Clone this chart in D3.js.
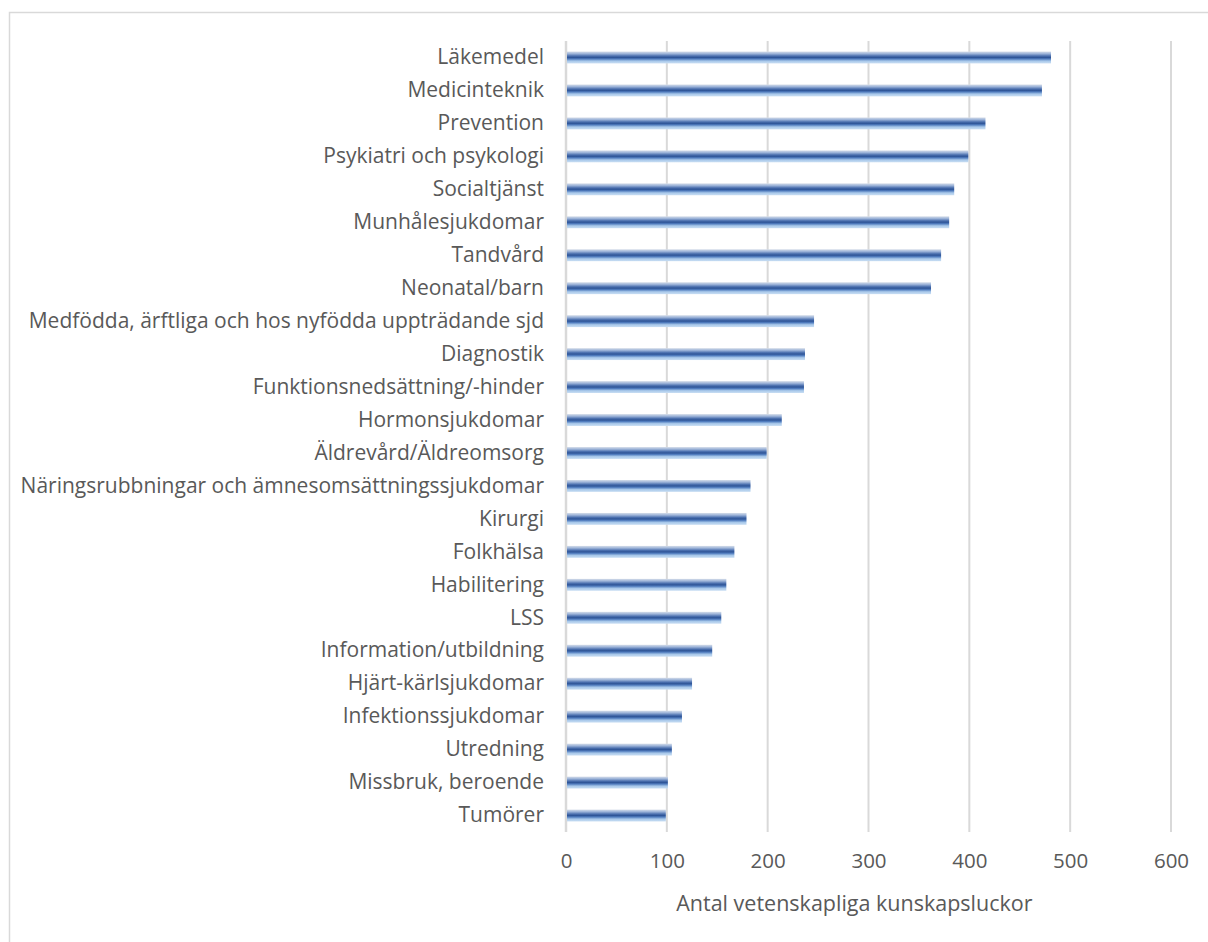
<!DOCTYPE html>
<html>
<head>
<meta charset="utf-8">
<script src="https://cdn.jsdelivr.net/npm/d3@7"></script>
<style>
  body { margin: 0; background: #fff; }
  text { font-family: "Open Sans", sans-serif; }
</style>
</head>
<body>
<div id="wrapper"></div>
<script>
// data
const categories = [
  "Läkemedel", "Medicinteknik", "Prevention", "Psykiatri och psykologi",
  "Socialtjänst", "Munhålesjukdomar", "Tandvård", "Neonatal/barn",
  "Medfödda, ärftliga och hos nyfödda uppträdande sjd", "Diagnostik",
  "Funktionsnedsättning/-hinder", "Hormonsjukdomar", "Äldrevård/Äldreomsorg",
  "Näringsrubbningar och ämnesomsättningssjukdomar", "Kirurgi", "Folkhälsa",
  "Habilitering", "LSS", "Information/utbildning", "Hjärt-kärlsjukdomar",
  "Infektionssjukdomar", "Utredning", "Missbruk, beroende", "Tumörer"
]
const values = [481, 472, 416, 399, 385, 380, 372, 362, 246, 237, 236, 214,
  199, 183, 179, 167, 159, 154, 145, 125, 115, 105, 101, 99]
const xTicks = [0, 100, 200, 300, 400, 500, 600]
const xTitle = "Antal vetenskapliga kunskapsluckor"

const dimensions = {
  width: 1208,
  height: 942,
  margin: { top: 41, right: 37, bottom: 110, left: 566 },
}
dimensions.boundedWidth = dimensions.width - dimensions.margin.left - dimensions.margin.right
dimensions.boundedHeight = dimensions.height - dimensions.margin.top - dimensions.margin.bottom

const wrapper = d3.select("#wrapper")
  .append("svg")
  .attr("width", dimensions.width)
  .attr("height", dimensions.height)

// chart border
wrapper.append("rect")
  .attr("x", 9.5).attr("y", 12.5)
  .attr("width", 1220).attr("height", 960)
  .attr("fill", "none")
  .attr("stroke", "#d9d9d9")
  .attr("stroke-width", 1.5)

// bar gradient (light edges, dark centre)
const grad = wrapper.append("defs").append("linearGradient")
  .attr("id", "barGrad")
  .attr("x1", 0).attr("y1", 0).attr("x2", 0).attr("y2", 1)
const stops = [
  [0, "#d5dde9"], [0.18, "#9db4d9"], [0.38, "#4a6fae"], [0.5, "#2f5597"],
  [0.62, "#4f7bbd"], [0.8, "#a8c8ea"], [1, "#c9def3"]
]
grad.selectAll("stop").data(stops).enter().append("stop")
  .attr("offset", d => d[0])
  .attr("stop-color", d => d[1])

const bounds = wrapper.append("g")
  .attr("transform", `translate(${dimensions.margin.left},${dimensions.margin.top})`)

const xScale = d3.scaleLinear()
  .domain([0, 600])
  .range([0, dimensions.boundedWidth])

const yScale = d3.scaleBand()
  .domain(categories)
  .range([0, dimensions.boundedHeight])
  .paddingInner(0.64)
  .paddingOuter(0.32)

// gridlines
bounds.selectAll(".grid")
  .data(xTicks)
  .enter().append("line")
  .attr("class", "grid")
  .attr("x1", d => xScale(d)).attr("x2", d => xScale(d))
  .attr("y1", 0).attr("y2", dimensions.boundedHeight)
  .attr("stroke", "#d9d9d9")
  .attr("stroke-width", d => d === 0 ? 2.5 : 2)

// bars
bounds.selectAll(".bar")
  .data(values)
  .enter().append("rect")
  .attr("class", "bar")
  .attr("x", xScale(0) + 1)
  .attr("y", (d, i) => yScale(categories[i]))
  .attr("width", d => xScale(d) - xScale(0) - 1)
  .attr("height", yScale.bandwidth())
  .attr("fill", "url(#barGrad)")

// y axis labels
const yAxis = d3.axisLeft(yScale).tickSize(0).tickPadding(22)
const yAxisG = bounds.append("g").call(yAxis)
yAxisG.select(".domain").remove()
yAxisG.selectAll("text")
  .attr("font-size", 21)
  .attr("fill", "#595959")
  .style("font-family", "'Open Sans', sans-serif")

// x axis labels
const xAxis = d3.axisBottom(xScale).tickValues(xTicks).tickSize(0).tickPadding(21)
const xAxisG = bounds.append("g")
  .attr("transform", `translate(0,${dimensions.boundedHeight})`)
  .call(xAxis)
xAxisG.select(".domain").remove()
xAxisG.selectAll("text")
  .attr("font-size", 20.5)
  .attr("fill", "#595959")
  .style("font-family", "'Open Sans', sans-serif")

// axis title
bounds.append("text")
  .attr("x", xScale(286))
  .attr("y", dimensions.boundedHeight + 79)
  .attr("text-anchor", "middle")
  .attr("font-size", 21.5)
  .attr("fill", "#595959")
  .text(xTitle)
</script>
</body>
</html>
